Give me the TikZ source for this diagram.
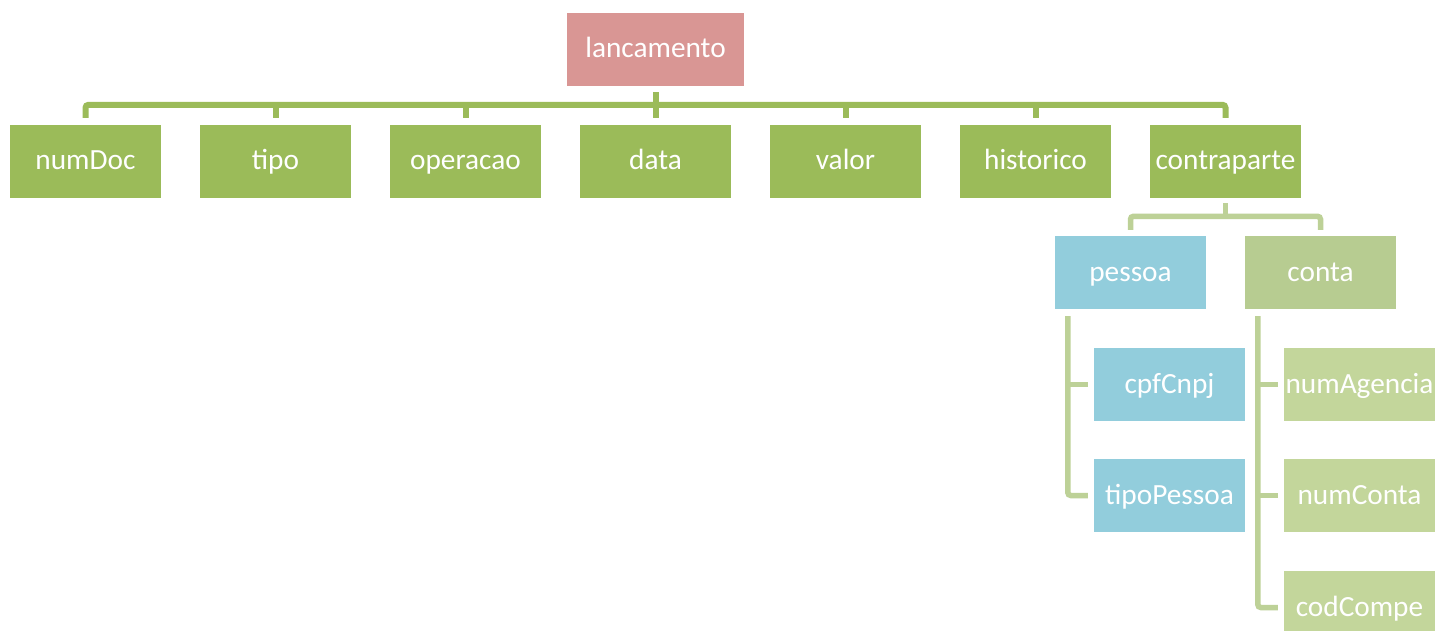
\documentclass[tikz,border=0pt]{standalone}
\usepackage{fontspec}
\setmainfont{Carlito}
\definecolor{rosebox}{HTML}{D99694}
\definecolor{greenbox}{HTML}{9BBB59}
\definecolor{bluebox}{HTML}{92CDDC}
\definecolor{contabox}{HTML}{B7CC91}
\definecolor{lightbox}{HTML}{C3D69B}
\definecolor{lightline}{HTML}{BDD197}
\tikzset{
  box/.style={rectangle, draw=none, inner sep=0pt, minimum width=151pt, minimum height=73pt,
    text=white, font=\fontsize{29.3}{35}\selectfont, text height=21pt, text depth=4pt},
  topline/.style={draw=greenbox, line width=6pt, rounded corners=3pt},
  subline/.style={draw=lightline, line width=5.5pt, rounded corners=3pt},
}
\begin{document}
\begin{tikzpicture}[x=1pt,y=-1pt]
\useasboundingbox (0,0) rectangle (1435,639);
\fill[white] (0,0) rectangle (1435,639);
\clip (0,0) rectangle (1435,630);

\node[box, fill=rosebox, minimum width=177pt] (lanc) at (655.5,49.5) {lancamento};

\node[box, fill=greenbox] (numDoc) at (85.5,161.5) {numDoc};
\node[box, fill=greenbox] (tipo) at (275.5,161.5) {tipo};
\node[box, fill=greenbox] (operacao) at (465.5,161.5) {operacao};
\node[box, fill=greenbox] (data) at (655.5,161.5) {data};
\node[box, fill=greenbox] (valor) at (845.5,161.5) {valor};
\node[box, fill=greenbox] (historico) at (1035.5,161.5) {historico};
\node[box, fill=greenbox] (contra) at (1225.5,161.5) {contraparte};

\node[box, fill=bluebox] (pessoa) at (1130.5,272.5) {pessoa};
\node[box, fill=contabox] (conta) at (1320.5,272.5) {conta};

\node[box, fill=bluebox] (cpf) at (1169.5,384.5) {cpfCnpj};
\node[box, fill=bluebox] (tipoP) at (1169.5,495.5) {tipoPessoa};

\node[box, fill=lightbox] (numAg) at (1359.5,384.5) {numAgencia};
\node[box, fill=lightbox] (numConta) at (1359.5,495.5) {numConta};
\node[box, fill=lightbox] (codCompe) at (1359.5,607.5) {codCompe};

% top level connectors
\draw[topline] ([yshift=-6pt]lanc.south) -- ([yshift=-32pt]lanc.south);
\draw[topline] ([yshift=7pt]numDoc.north) -- ([yshift=20pt]numDoc.north)
  -- ([yshift=20pt]contra.north) -- ([yshift=7pt]contra.north);
\foreach \n in {tipo,operacao,data,valor,historico}
  \draw[topline] ([yshift=7pt]\n.north) -- ([yshift=20pt]\n.north);

% contraparte connectors
\draw[subline] ([yshift=-5pt]contra.south) -- ([yshift=-19pt]contra.south);
\draw[subline] ([yshift=6pt]pessoa.north) -- ([yshift=19.5pt]pessoa.north)
  -- ([yshift=19.5pt]conta.north) -- ([yshift=6pt]conta.north);

% pessoa children
\coordinate (pv) at ([xshift=13pt,yshift=-7pt]pessoa.south west);
\draw[subline] (pv) |- ([xshift=-6pt]tipoP.west);
\draw[subline] ([xshift=-6pt]cpf.west) -- (cpf.west -| pv);

% conta children
\coordinate (cv) at ([xshift=13pt,yshift=-7pt]conta.south west);
\draw[subline] (cv) |- ([xshift=-6pt]codCompe.west);
\draw[subline] ([xshift=-6pt]numAg.west) -- (numAg.west -| cv);
\draw[subline] ([xshift=-6pt]numConta.west) -- (numConta.west -| cv);
\end{tikzpicture}
\end{document}
